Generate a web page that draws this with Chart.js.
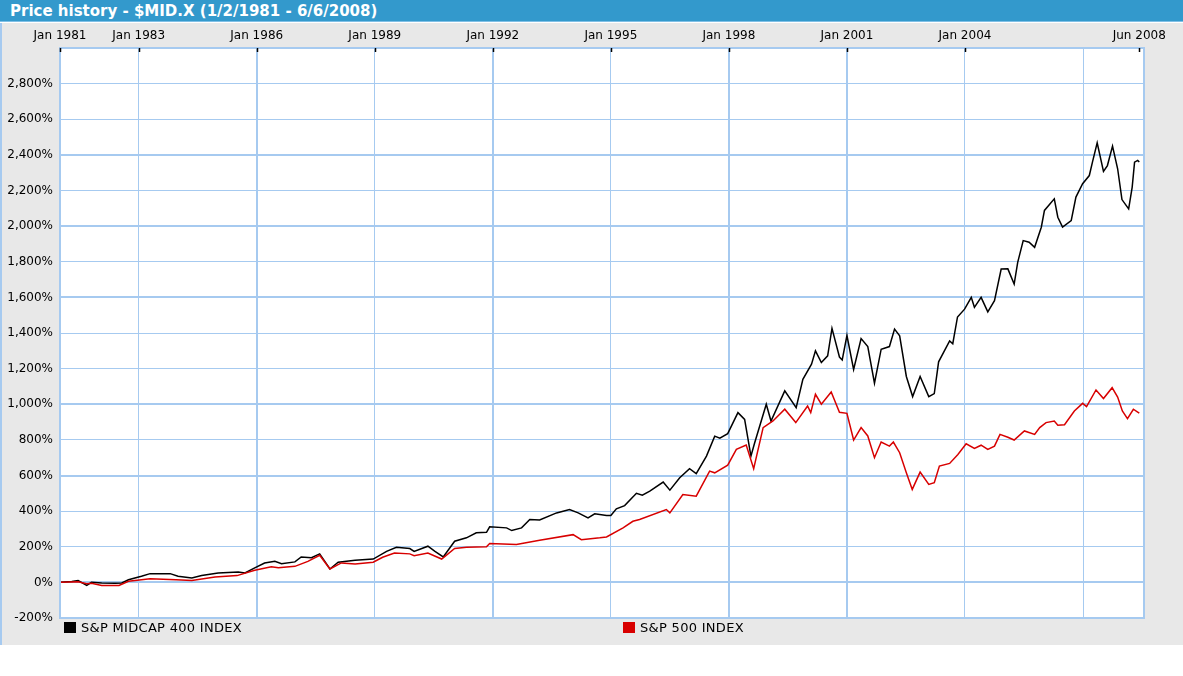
<!DOCTYPE html>
<html>
<head>
<meta charset="utf-8">
<title>Price history - $MID.X</title>
<script src="https://cdn.jsdelivr.net/npm/chart.js@4.4.0/dist/chart.umd.min.js"></script>
<style>
  html, body { margin:0; padding:0; background:#fff; width:1183px; height:676px; overflow:hidden; font-family:'DejaVu Sans', Verdana, sans-serif; }
  #title { position:absolute; left:0; top:0; width:1183px; height:22px; background:#3399cc; border-bottom:1px solid #80c0e6; color:#fff; font-weight:bold; font-size:15px; line-height:22px; padding-left:10px; box-sizing:border-box; }
  #panel { position:absolute; left:0; top:23px; width:1183px; height:622px; background:#e8e8e8; }
  #edge { position:absolute; left:0; top:23px; width:2px; height:622px; background:#a6caf0; }
  #chart { position:absolute; left:0; top:23px; }
  .leg { position:absolute; top:621px; font-size:13px; line-height:13px; color:#000; display:flex; align-items:center; letter-spacing:0.3px; }
  .sw { display:inline-block; width:12px; height:11px; margin-right:5px; }
</style>
</head>
<body>
<div id="title">Price history - $MID.X (1/2/1981 - 6/6/2008)</div>
<div id="panel"></div>
<div id="edge"></div>
<canvas id="chart" width="1183" height="622"></canvas>
<div class="leg" style="left:64px"><span class="sw" style="background:#000"></span>S&amp;P MIDCAP 400 INDEX</div>
<div class="leg" style="left:623px"><span class="sw" style="background:#d80000"></span>S&amp;P 500 INDEX</div>

<script>
// S&P MIDCAP 400 - % change since 1/2/1981
const midYears = [
  1981.00, 1981.30, 1981.46, 1981.68, 1981.80, 1982.06, 1982.40, 1982.57, 1982.74, 1983.07,
  1983.29, 1983.80, 1984.00, 1984.35, 1984.60, 1985.02, 1985.53, 1985.70, 1985.95, 1986.20,
  1986.46, 1986.63, 1986.97, 1987.13, 1987.39, 1987.60, 1987.86, 1988.07, 1988.50, 1988.96,
  1989.30, 1989.55, 1989.89, 1990.00, 1990.35, 1990.53, 1990.74, 1991.03, 1991.33, 1991.58,
  1991.84, 1991.92, 1992.35, 1992.48, 1992.73, 1992.94, 1993.19, 1993.62, 1993.95, 1994.17,
  1994.42, 1994.59, 1994.89, 1995.00, 1995.14, 1995.35, 1995.65, 1995.80, 1995.99, 1996.33,
  1996.50, 1996.75, 1997.00, 1997.17, 1997.43, 1997.64, 1997.77, 1997.97, 1998.23, 1998.40,
  1998.56, 1998.65, 1998.95, 1999.07, 1999.42, 1999.71, 1999.88, 2000.10, 2000.20, 2000.35,
  2000.51, 2000.62, 2000.81, 2000.88, 2001.00, 2001.17, 2001.36, 2001.53, 2001.70, 2001.87,
  2002.08, 2002.21, 2002.34, 2002.51, 2002.67, 2002.86, 2003.08, 2003.22, 2003.33, 2003.61,
  2003.69, 2003.81, 2003.99, 2004.16, 2004.24, 2004.41, 2004.58, 2004.75, 2004.92, 2005.09,
  2005.25, 2005.34, 2005.48, 2005.63, 2005.77, 2005.94, 2006.02, 2006.27, 2006.36, 2006.48,
  2006.70, 2006.82, 2006.99, 2007.16, 2007.24, 2007.36, 2007.52, 2007.62, 2007.75, 2007.88,
  2007.99, 2008.16, 2008.25, 2008.31, 2008.39, 2008.43
];
const midPct = [
  0, 5, 10, -17, 0, -3, -5, -3, 15, 34,
  49, 49, 34, 25, 39, 53, 58, 53, 81, 109,
  118, 105, 115, 143, 138, 160, 75, 113, 124, 131,
  174, 197, 190, 174, 203, 174, 143, 231, 250, 278,
  281, 312, 306, 291, 306, 353, 350, 390, 409, 390,
  362, 385, 375, 375, 413, 431, 500, 490, 512, 563,
  518, 587, 638, 611, 709, 821, 810, 835, 953, 915,
  709, 780, 1000, 906, 1075, 981, 1140, 1225, 1300, 1234,
  1272, 1426, 1265, 1249, 1386, 1195, 1369, 1324, 1118, 1309,
  1324, 1422, 1384, 1156, 1043, 1156, 1043, 1060, 1238, 1356,
  1340, 1490, 1534, 1600, 1544, 1600, 1519, 1581, 1759, 1760,
  1675, 1797, 1919, 1910, 1881, 1994, 2088, 2153, 2050, 1994,
  2031, 2163, 2238, 2284, 2359, 2468, 2307, 2340, 2449, 2322,
  2149, 2097, 2219, 2359, 2369, 2360
];

// S&P 500 - % change since 1/2/1981
const spYears = [
  1981.00, 1981.46, 1981.68, 1981.80, 1982.06, 1982.50, 1982.74, 1983.29, 1983.95, 1984.35,
  1984.94, 1985.50, 1985.95, 1986.37, 1986.55, 1986.97, 1987.30, 1987.60, 1987.86, 1988.15,
  1988.50, 1988.96, 1989.20, 1989.50, 1989.89, 1990.00, 1990.35, 1990.70, 1991.03, 1991.33,
  1991.84, 1991.92, 1992.60, 1993.19, 1994.04, 1994.25, 1994.72, 1994.89, 1995.31, 1995.56,
  1995.73, 1996.41, 1996.50, 1996.83, 1997.17, 1997.51, 1997.64, 1997.97, 1998.19, 1998.44,
  1998.63, 1998.87, 1999.12, 1999.42, 1999.70, 2000.00, 2000.08, 2000.20, 2000.35, 2000.60,
  2000.81, 2001.00, 2001.17, 2001.36, 2001.53, 2001.70, 2001.87, 2002.08, 2002.18, 2002.34,
  2002.51, 2002.66, 2002.86, 2003.08, 2003.22, 2003.35, 2003.61, 2003.82, 2004.03, 2004.24,
  2004.41, 2004.58, 2004.75, 2004.89, 2005.09, 2005.25, 2005.51, 2005.77, 2005.90, 2006.06,
  2006.27, 2006.36, 2006.53, 2006.78, 2006.99, 2007.09, 2007.33, 2007.52, 2007.74, 2007.88,
  2008.00, 2008.13, 2008.28, 2008.39, 2008.43
];
const spPct = [
  0, 3, -8, -5, -17, -17, 6, 21, 15, 11,
  30, 38, 68, 87, 82, 90, 118, 152, 75, 109,
  103, 113, 141, 165, 160, 150, 165, 131, 190, 197,
  200, 218, 212, 236, 268, 240, 250, 255, 306, 343,
  353, 409, 390, 493, 484, 625, 615, 658, 747, 771,
  638, 869, 906, 972, 897, 990, 953, 1056, 1000, 1069,
  955, 949, 799, 869, 822, 700, 788, 765, 788, 728,
  616, 522, 619, 550, 560, 653, 668, 718, 778, 752,
  770, 747, 765, 831, 815, 799, 850, 831, 869, 897,
  906, 882, 885, 962, 1005, 987, 1080, 1032, 1093, 1040,
  962, 919, 972, 956, 950
];

// axis ticks
const xTickYears = [1981, 1983, 1986, 1989, 1992, 1995, 1998, 2001, 2004, 2007, 2008.43];
const xTickLabels = ['Jan 1981', 'Jan 1983', 'Jan 1986', 'Jan 1989', 'Jan 1992', 'Jan 1995',
                     'Jan 1998', 'Jan 2001', 'Jan 2004', '', 'Jun 2008'];
const yTickValues = [-200, 0, 200, 400, 600, 800, 1000, 1200, 1400, 1600, 1800, 2000,
                     2200, 2400, 2600, 2800, 3000];

const GRID = '#a6caf0';
const thickX = [1986, 1992, 1998, 2001];
const thickY = [0, 600, 1000, 1600, 2000, 2400];

const plotFrame = {
  id: 'plotFrame',
  beforeDraw(chart) {
    const a = chart.chartArea, ctx = chart.ctx;
    ctx.save();
    ctx.fillStyle = '#fff';
    ctx.fillRect(a.left, a.top, a.right - a.left, a.bottom - a.top);
    ctx.restore();
  },
  afterDraw(chart) {
    const a = chart.chartArea, ctx = chart.ctx, xs = chart.scales.x;
    ctx.save();
    ctx.strokeStyle = GRID;
    ctx.lineWidth = 2;
    ctx.strokeRect(a.left, a.top, a.right - a.left, a.bottom - a.top);
    // small black tick marks under the top edge, only at labelled dates
    ctx.strokeStyle = '#000';
    ctx.lineWidth = 1.5;
    xTickYears.forEach((v, i) => {
      if (!xTickLabels[i]) return;
      const px = Math.round(xs.getPixelForValue(v)) + 0.5;
      ctx.beginPath();
      ctx.moveTo(px, a.top);
      ctx.lineTo(px, a.top + 4);
      ctx.stroke();
    });
    ctx.restore();
  }
};

new Chart(document.getElementById('chart'), {
  type: 'line',
  data: {
    datasets: [
      {
        label: 'S&P MIDCAP 400 INDEX',
        data: midYears.map((x, i) => ({ x, y: midPct[i] })),
        borderColor: '#000',
        borderWidth: 1.5,
        pointRadius: 0,
        tension: 0,
        order: 2
      },
      {
        label: 'S&P 500 INDEX',
        data: spYears.map((x, i) => ({ x, y: spPct[i] })),
        borderColor: '#d80000',
        borderWidth: 1.5,
        pointRadius: 0,
        tension: 0,
        order: 1
      }
    ]
  },
  options: {
    responsive: false,
    animation: false,
    layout: { padding: { top: 0, left: 0, right: 39, bottom: 27 } },
    plugins: { legend: { display: false }, tooltip: { enabled: false } },
    scales: {
      x: {
        type: 'linear', position: 'top', min: 1981, max: 2008.55,
        afterBuildTicks: s => { s.ticks = xTickYears.map(v => ({ value: v })); },
        afterFit: s => { s.height = 25; },
        border: { display: false },
        grid: {
          drawTicks: false,
          color: c => (c.tick && c.tick.value === 2008.43) ? 'rgba(0,0,0,0)' : GRID,
          lineWidth: c => (c.tick && thickX.includes(c.tick.value)) ? 2 : 1
        },
        ticks: {
          autoSkip: false, maxRotation: 0, padding: 5, color: '#000',
          font: { family: 'DejaVu Sans', size: 12 },
          callback: (v, i) => xTickLabels[i]
        }
      },
      y: {
        min: -200, max: 3000,
        afterBuildTicks: s => { s.ticks = yTickValues.map(v => ({ value: v })); },
        afterFit: s => { s.width = 60; },
        border: { display: false },
        grid: {
          drawTicks: false,
          color: GRID,
          lineWidth: c => (c.tick && thickY.includes(c.tick.value)) ? 2 : 1
        },
        ticks: {
          padding: 7, color: '#000',
          font: { family: 'DejaVu Sans', size: 12 },
          callback: v => v === 3000 ? '' : v.toLocaleString('en-US') + '%'
        }
      }
    }
  },
  plugins: [plotFrame]
});
</script>
</body>
</html>
